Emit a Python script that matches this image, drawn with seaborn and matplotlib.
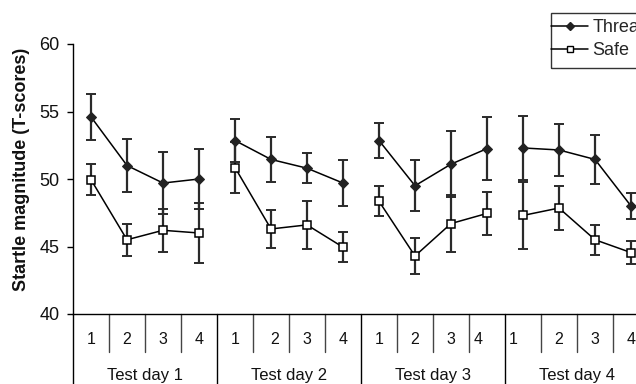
import matplotlib
matplotlib.use("Agg")
import matplotlib.pyplot as plt
import seaborn as sns
import numpy as np
import pandas as pd
from matplotlib.lines import Line2D
from matplotlib.patches import Rectangle

# ---- data ----
session_labels = ["1", "2", "3", "4"] * 4
day_labels = ["Test day 1", "Test day 2", "Test day 3", "Test day 4"]
threat_mean = [54.6, 51.0, 49.7, 50.0, 52.85, 51.45, 50.8, 49.7,
               52.85, 49.5, 51.1, 52.25, 52.3, 52.15, 51.45, 48.0]
threat_err = [1.7, 1.95, 2.3, 2.25, 1.6, 1.65, 1.1, 1.7,
              1.3, 1.9, 2.45, 2.35, 2.4, 1.9, 1.8, 0.95]
safe_mean = [49.95, 45.5, 46.2, 46.0, 50.85, 46.3, 46.6, 44.95,
             48.35, 44.3, 46.7, 47.45, 47.3, 47.85, 45.5, 44.55]
safe_err = [1.15, 1.2, 1.6, 2.25, 1.9, 1.4, 1.8, 1.1,
            1.1, 1.35, 2.1, 1.6, 2.5, 1.65, 1.1, 0.85]
y_ticks = [40, 45, 50, 55, 60]

sns.set_style("white")
plt.rcParams['font.family'] = ['Liberation Sans', 'DejaVu Sans']

pos = np.arange(len(threat_mean))
df = pd.DataFrame({
    "pos": np.concatenate([pos, pos]),
    "value": threat_mean + safe_mean,
    "err": threat_err + safe_err,
    "cond": ["Threat"] * len(pos) + ["Safe"] * len(pos),
})

fig = plt.figure(figsize=(6.36, 3.84), dpi=100)
W, H = 636, 384
ax_left, ax_right, ax_top, ax_bottom = 73, 649, 44, 314
ax = fig.add_axes([ax_left / W, 1 - ax_bottom / H,
                   (ax_right - ax_left) / W, (ax_bottom - ax_top) / H])

# error bars
for cond in ["Safe", "Threat"]:
    d = df[df.cond == cond]
    ax.errorbar(d["pos"], d["value"], yerr=d["err"], fmt="none",
                ecolor="#2a2a2a", elinewidth=1.6, capsize=3.6, capthick=1.4,
                zorder=2)

# lines + markers (one segment per test day)
for start in range(0, 16, 4):
    dt = df[(df.cond == "Threat") & (df.pos >= start) & (df.pos < start + 4)]
    ds = df[(df.cond == "Safe") & (df.pos >= start) & (df.pos < start + 4)]
    sns.lineplot(data=dt, x="pos", y="value", ax=ax, color="black",
                 linewidth=1.1, marker="D", markersize=5.5,
                 markerfacecolor="#222222", markeredgecolor="#222222",
                 zorder=3, legend=False)
    sns.lineplot(data=ds, x="pos", y="value", ax=ax, color="black",
                 linewidth=1.1, marker="s", markersize=6,
                 markerfacecolor="white", markeredgecolor="black",
                 markeredgewidth=1.1, zorder=4, legend=False)

ax.set_xlim(-0.5, 15.5)
ax.set_ylim(40, 60)
ax.set_yticks(y_ticks)
ax.set_yticklabels([str(t) for t in y_ticks], fontsize=13, color="#111111")
ax.set_xticks([])
ax.set_xlabel("")
ax.set_ylabel("Startle magnitude (T-scores)", fontsize=13,
              fontweight="bold", color="#111111")
ax.yaxis.set_label_coords(-0.074, 0.537)
ax.tick_params(axis="y", direction="out", length=4.5, width=1, color="black",
               left=True, pad=5)
for s in ["top", "right"]:
    ax.spines[s].set_visible(False)
for s in ["left", "bottom"]:
    ax.spines[s].set_color("black")
    ax.spines[s].set_linewidth(1)

# table under the axis
trans = ax.get_xaxis_transform()
ax.plot([-0.5, -0.5], [0, -0.35], transform=trans, color="black", lw=1,
        clip_on=False)
for k in range(15):
    xs = k + 0.5
    if k % 4 == 3:
        ax.plot([xs, xs], [0, -0.35], transform=trans, color="black", lw=1,
                clip_on=False)
    else:
        ax.plot([xs, xs], [0, -0.14], transform=trans, color="#444444",
                lw=1, clip_on=False)
nudge = {5: 0.1, 11: -0.25, 12: -0.28}
for i, lab in enumerate(session_labels):
    ax.text(pos[i] + nudge.get(i, 0.0), -0.096, lab, transform=trans,
            ha="center", va="center", fontsize=11.5, color="#111111")
for j, lab in enumerate(day_labels):
    ax.text(4 * j + 1.5, -0.226, lab, transform=trans, ha="center",
            va="center", fontsize=12, color="#111111")

# legend (frame drawn separately so the handles touch the left edge)
handles = [
    Line2D([], [], color="black", lw=1.1, marker="D", markersize=4.5,
           markerfacecolor="#222222", markeredgecolor="#222222"),
    Line2D([], [], color="black", lw=1.1, marker="s", markersize=5,
           markerfacecolor="white", markeredgecolor="black"),
]
pad_px = 6.5
leg = fig.legend(handles, ["Threat", "Safe"], loc="upper left",
                 bbox_to_anchor=((551 - pad_px) / W, 1 - 13 / H),
                 frameon=False, fontsize=13, handlelength=2.05,
                 handletextpad=0.25, borderpad=0.36, labelspacing=0.33,
                 borderaxespad=0)
fig.add_artist(Rectangle((551 / W, 1 - 68 / H), 100 / W, 55 / H,
                         transform=fig.transFigure, fill=False,
                         edgecolor="#333333", lw=1))

fig.savefig("out.png", dpi=100)
